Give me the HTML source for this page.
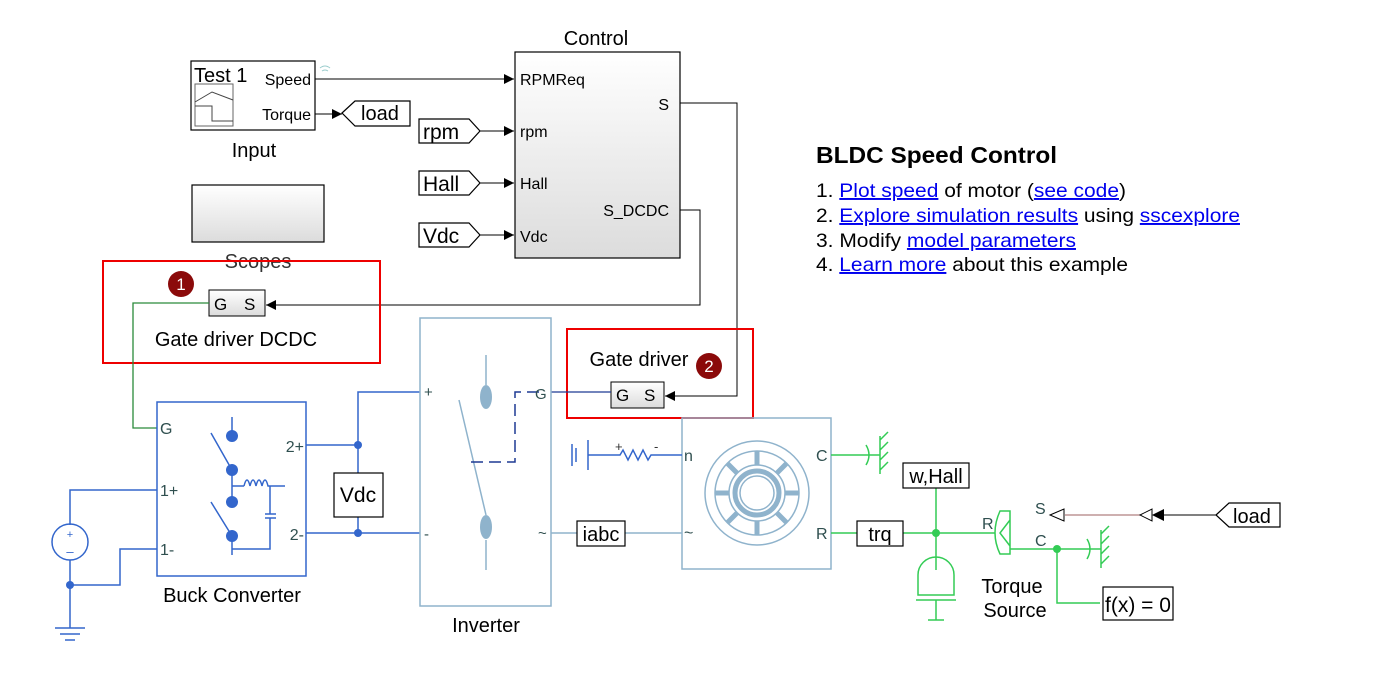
<!DOCTYPE html>
<html><head><meta charset="utf-8"><style>
html,body{margin:0;padding:0;background:#fff;}
svg{display:block;font-family:"Liberation Sans",Arial,sans-serif;}
a{fill:#0000ee;text-decoration:underline;}
</style></head><body>
<svg width="1386" height="684" viewBox="0 0 1386 684" xmlns="http://www.w3.org/2000/svg">
<defs>
<linearGradient id="g" x1="0" y1="0" x2="0" y2="1"><stop offset="0" stop-color="#fff"/><stop offset="1" stop-color="#dcdcdc"/></linearGradient>
<marker id="ar" markerWidth="10" markerHeight="10" refX="10" refY="5" orient="auto" markerUnits="userSpaceOnUse"><path d="M0,0 L10,5 L0,10z" fill="#000"/></marker>
</defs>
<!-- Input block -->
<rect x="191" y="61" width="124" height="69" fill="#fff" stroke="#000" stroke-width="1.2"/>
<text x="194" y="82" font-size="20">Test 1</text>
<rect x="195" y="84" width="38" height="42" fill="#fff" stroke="#666"/>
<path d="M195,102 L212,92 L233,100 M195,106 L212,106 L212,121 L233,121" fill="none" stroke="#444"/>
<text x="311" y="85" font-size="16" text-anchor="end">Speed</text>
<text x="311" y="120" font-size="16" text-anchor="end">Torque</text>
<text x="254" y="157" font-size="20" text-anchor="middle">Input</text>
<path d="M320,68 q5,-4 10,0 M322,71 q3,-2 6,0" stroke="#9cc" fill="none"/>
<line x1="315" y1="79" x2="514" y2="79" stroke="#000" marker-end="url(#ar)"/>
<line x1="315" y1="114" x2="342" y2="114" stroke="#000" marker-end="url(#ar)"/>
<path d="M342,113 L355,101 L410,101 L410,126 L355,126z" fill="#fff" stroke="#000" stroke-width="1.2"/>
<text x="361" y="120" font-size="20">load</text>
<!-- Control -->
<text x="596" y="45" font-size="20" text-anchor="middle">Control</text>
<rect x="515" y="52" width="165" height="206" fill="url(#g)" stroke="#000" stroke-width="1.2"/>
<g font-size="16"><text x="520" y="85">RPMReq</text><text x="520" y="137">rpm</text><text x="520" y="189">Hall</text><text x="520" y="242">Vdc</text>
<text x="669" y="110" text-anchor="end">S</text><text x="669" y="216" text-anchor="end">S_DCDC</text></g>
<g stroke="#000" stroke-width="1.2" fill="#fff">
<path d="M419,119 L469,119 L480,131 L469,143 L419,143z"/>
<path d="M419,171 L469,171 L480,183 L469,195 L419,195z"/>
<path d="M419,223 L469,223 L480,235 L469,247 L419,247z"/></g>
<g font-size="21"><text x="423" y="139">rpm</text><text x="423" y="191">Hall</text><text x="423" y="243">Vdc</text></g>
<g stroke="#000" marker-end="url(#ar)"><line x1="480" y1="131" x2="514" y2="131"/><line x1="480" y1="183" x2="514" y2="183"/><line x1="480" y1="235" x2="514" y2="235"/></g>
<!-- Scopes -->
<rect x="192" y="185" width="132" height="57" fill="url(#g)" stroke="#000" stroke-width="1.2"/>
<text x="258" y="268" font-size="20" text-anchor="middle" fill="#333">Scopes</text>
<!-- S lines -->
<path d="M680,210 L700,210 L700,305 L266,305" fill="none" stroke="#000" marker-end="url(#ar)"/>
<path d="M680,103 L737,103 L737,396 L665,396" fill="none" stroke="#000" marker-end="url(#ar)"/>
<!-- red box1 -->
<rect x="103" y="261" width="277" height="102" fill="none" stroke="#e00" stroke-width="2"/>
<circle cx="181" cy="284" r="13" fill="#8b0a0a"/><text x="181" y="290" font-size="17" fill="#fff" text-anchor="middle">1</text>
<rect x="209" y="290" width="56" height="26" fill="url(#g)" stroke="#000"/>
<text x="214" y="310" font-size="17">G</text><text x="244" y="310" font-size="17">S</text>
<text x="236" y="346" font-size="20" text-anchor="middle">Gate driver DCDC</text>
<path d="M209,303 L133,303 L133,428 L157,428" fill="none" stroke="#2a8a3a" stroke-width="1.3"/>
<!-- red box2 -->
<rect x="567" y="329" width="186" height="89" fill="none" stroke="#e00" stroke-width="2"/>
<text x="639" y="366" font-size="20" text-anchor="middle">Gate driver</text>
<circle cx="709" cy="366" r="13" fill="#8b0a0a"/><text x="709" y="372" font-size="17" fill="#fff" text-anchor="middle">2</text>
<rect x="611" y="382" width="53" height="26" fill="url(#g)" stroke="#000"/>
<text x="616" y="401" font-size="17">G</text><text x="644" y="401" font-size="17">S</text>
<line x1="551" y1="392" x2="611" y2="392" stroke="#1f3a93" stroke-width="1.3"/>
<!-- Buck converter -->
<g stroke="#3366cc" stroke-width="1.5" fill="none">
<rect x="157" y="402" width="149" height="174"/>
<path d="M232,417 L232,436 M211,433 L232,470 M232,470 L232,502 M232,486 L244,486 M244,486 q3,-12 6,0 q3,-12 6,0 q3,-12 6,0 q3,-12 6,0 L285,486 M270,486 L270,514 M265,514 L276,514 M265,518 L276,518 M270,518 L270,549 L232,549 M211,502 L232,536 M232,536 L232,555"/>
<path d="M306,445 L358,445 M306,533 L420,533 M358,445 L358,392 Q358,392 420,392 M358,445 L358,473 M358,517 L358,533 M157,490 L70,490 L70,525 M70,560 L70,628 M157,549 L120,549 L120,585 L70,585 M55,628 L85,628 M60,634 L80,634 M65,640 L75,640"/>
<circle cx="70" cy="542" r="18"/>
</g>
<g fill="#3366cc"><circle cx="232" cy="436" r="6"/><circle cx="232" cy="470" r="6"/><circle cx="232" cy="502" r="6"/><circle cx="232" cy="536" r="6"/>
<circle cx="358" cy="445" r="4"/><circle cx="358" cy="533" r="4"/><circle cx="70" cy="585" r="4"/></g>
<text x="70" y="538" font-size="11" fill="#3366cc" text-anchor="middle">+</text><text x="70" y="556" font-size="13" fill="#3366cc" text-anchor="middle">–</text>
<g font-size="16" fill="#2f4f4f"><text x="160" y="434">G</text><text x="160" y="496">1+</text><text x="160" y="555">1-</text><text x="304" y="452" text-anchor="end">2+</text><text x="304" y="540" text-anchor="end">2-</text></g>
<text x="232" y="602" font-size="20" text-anchor="middle">Buck Converter</text>
<rect x="334" y="473" width="49" height="44" fill="#fff" stroke="#000" stroke-width="1.2"/>
<text x="358" y="502" font-size="21" text-anchor="middle">Vdc</text>
<!-- Inverter -->
<g stroke="#8fb3cc" stroke-width="1.5" fill="none">
<rect x="420" y="318" width="131" height="288"/>
<path d="M486,355 L486,385 M459,400 L486,515 M486,540 L486,570 M551,533 L577,533 M625,533 L682,533"/>
</g>
<g fill="#8fb3cc"><ellipse cx="486" cy="397" rx="6" ry="12"/><ellipse cx="486" cy="527" rx="6" ry="12"/></g>
<path d="M539,392 L515,392 L515,462 L470,462" fill="none" stroke="#1f3a93" stroke-width="1.5" stroke-dasharray="12,6"/>
<g font-size="15" fill="#2f4f4f"><text x="424" y="397">+</text><text x="424" y="539">-</text><text x="535" y="399">G</text><text x="538" y="538">~</text></g>
<text x="486" y="632" font-size="20" text-anchor="middle">Inverter</text>
<rect x="577" y="521" width="48" height="25" fill="#fff" stroke="#000" stroke-width="1.2"/>
<text x="601" y="541" font-size="20" text-anchor="middle">iabc</text>
<!-- motor -->
<g stroke="#8fb3cc" stroke-width="1.5" fill="none">
<rect x="682" y="418" width="149" height="151"/>
<circle cx="757" cy="493" r="52"/><circle cx="757" cy="493" r="42"/><circle cx="757" cy="493" r="28"/>
<circle cx="757" cy="493" r="22" stroke-width="5"/><circle cx="757" cy="493" r="17"/>
<path d="M757,451 L757,465 M757,521 L757,535 M715,493 L729,493 M785,493 L799,493 M727,463 L737,473 M787,463 L777,473 M727,523 L737,513 M787,523 L777,513" stroke-width="5"/>
</g>
<g stroke="#3366cc" stroke-width="1.5" fill="none"><path d="M576,448 L576,462 M572,444 L572,466 M588,440 L588,470 M588,455 L620,455 l3,-5 l5,10 l5,-10 l5,10 l5,-10 l5,10 l3,-5 L682,455"/></g>
<g font-size="13" fill="#333"><text x="615" y="451">+</text><text x="654" y="451">-</text></g>
<g font-size="16" fill="#2f4f4f"><text x="684" y="461">n</text><text x="684" y="538">~</text><text x="816" y="461">C</text><text x="816" y="539">R</text></g>
<!-- green mech -->
<g stroke="#33cc55" stroke-width="1.5" fill="none">
<path d="M831,455 L880,455 M880,436 L880,474 M880,440 l8,-8 M880,450 l8,-8 M880,460 l8,-8 M880,470 l8,-8 M866,445 q6,10 0,20"/>
<path d="M831,533 L857,533 M903,533 L995,533 M936,488 L936,570 M918,575 a18,18 0 0 1 36,0 L954,595 L918,595z M916,600 L956,600 M936,600 L936,620 M928,620 L944,620"/>
<path d="M1010,511 L1000,511 Q990,533 1000,554 L1010,554z M1010,520 L1000,533 L1010,546"/>
<path d="M1010,549 L1101,549 M1101,530 L1101,568 M1101,534 l8,-8 M1101,544 l8,-8 M1101,554 l8,-8 M1101,564 l8,-8 M1087,539 q6,10 0,20 M1057,549 L1057,603 L1100,603"/>
</g>
<g fill="#33cc55"><circle cx="936" cy="533" r="4"/><circle cx="1057" cy="549" r="4"/></g>
<g font-size="16" fill="#2f4f4f"><text x="982" y="529">R</text><text x="1035" y="514">S</text><text x="1035" y="546">C</text></g>
<rect x="857" y="521" width="46" height="25" fill="#fff" stroke="#000" stroke-width="1.2"/>
<text x="880" y="541" font-size="20" text-anchor="middle">trq</text>
<rect x="903" y="463" width="66" height="25" fill="#fff" stroke="#000" stroke-width="1.2"/>
<text x="936" y="483" font-size="20" text-anchor="middle">w,Hall</text>
<text x="1012" y="593" font-size="20" text-anchor="middle">Torque</text><text x="1015" y="617" font-size="20" text-anchor="middle">Source</text>
<rect x="1103" y="587" width="70" height="33" fill="#fff" stroke="#000" stroke-width="1.2"/>
<text x="1105" y="612" font-size="21">f(x) = 0</text>
<path d="M1065,515 L1140,515" stroke="#b08080" stroke-width="1.3"/>
<path d="M1050,515 L1064,509 L1064,521z M1140,515 L1152,509 L1152,521z" fill="#fff" stroke="#000"/>
<path d="M1152,515 L1164,509 L1164,521z" fill="#000"/>
<line x1="1164" y1="515" x2="1216" y2="515" stroke="#000"/>
<path d="M1216,515 L1229,503 L1280,503 L1280,527 L1229,527z" fill="#fff" stroke="#000" stroke-width="1.2"/>
<text x="1233" y="523" font-size="20">load</text>
<!-- annotation -->
<text x="816" y="163" font-size="23" font-weight="bold" textLength="241" lengthAdjust="spacingAndGlyphs">BLDC Speed Control</text>
<g font-size="19.5">
<text x="816" y="197" textLength="310" lengthAdjust="spacingAndGlyphs">1. <a>Plot speed</a> of motor (<a>see code</a>)</text>
<text x="816" y="222" textLength="424" lengthAdjust="spacingAndGlyphs">2. <a>Explore simulation results</a> using <a>sscexplore</a></text>
<text x="816" y="247" textLength="260" lengthAdjust="spacingAndGlyphs">3. Modify <a>model parameters</a></text>
<text x="816" y="271" textLength="312" lengthAdjust="spacingAndGlyphs">4. <a>Learn more</a> about this example</text>
</g>
</svg>
</body></html>
